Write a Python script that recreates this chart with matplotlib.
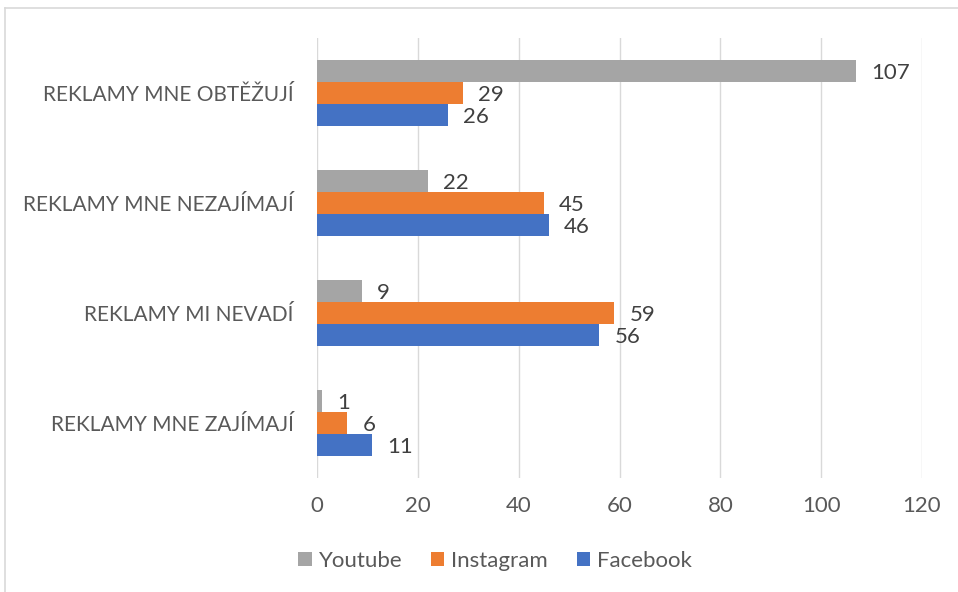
import matplotlib.pyplot as plt
import numpy as np

categories = ["REKLAMY MNE ZAJÍMAJÍ", "REKLAMY MI NEVADÍ",
              "REKLAMY MNE NEZAJÍMAJÍ", "REKLAMY MNE OBTĚŽUJÍ"]
youtube = [1, 9, 22, 107]
instagram = [6, 59, 45, 29]
facebook = [11, 56, 46, 26]

series = [("Youtube", youtube, "#A5A5A5", 0.2),
          ("Instagram", instagram, "#ED7D31", 0.0),
          ("Facebook", facebook, "#4472C4", -0.2)]

plt.rcParams['font.family'] = ['Lato', 'DejaVu Sans']
txt = "#595959"

fig = plt.figure(figsize=(9.58, 5.92), dpi=100)
ax = fig.add_axes([317 / 958, 1 - 478 / 592, 605 / 958, 440 / 592])

y = np.arange(len(categories))
for name, vals, col, off in series:
    bars = ax.barh(y + off, vals, height=0.2, color=col, label=name, zorder=2)
    for b, v in zip(bars, vals):
        ax.annotate(str(v), xy=(b.get_width(), b.get_y() + b.get_height() / 2),
                    xytext=(15, -2), textcoords='offset pixels',
                    va='center', ha='left', fontsize=16, color="#404040")

ax.set_xlim(0, 120)
ax.set_ylim(-0.5, 3.5)
ax.set_xticks(range(0, 121, 20))
ax.set_yticks(y)
ax.set_yticklabels(categories)
ax.grid(axis='x', color='#D9D9D9', linewidth=1, zorder=0)
for s in ax.spines.values():
    s.set_visible(False)
ax.tick_params(axis='both', length=0, colors=txt, labelsize=16)
ax.tick_params(axis='y', pad=17, labelsize=15)
ax.tick_params(axis='x', pad=13)

handles, labels = ax.get_legend_handles_labels()
fig.legend(handles, labels, loc='center', bbox_to_anchor=(495 / 958, 1 - 561 / 592),
           ncol=3, frameon=False, fontsize=16, labelcolor=txt,
           handlelength=0.6, handleheight=0.6, handletextpad=0.3, columnspacing=1.3)

fig.add_artist(plt.Line2D([5 / 958, 1], [1 - 8 / 592] * 2, transform=fig.transFigure,
                          color='#D9D9D9', linewidth=1.2))
fig.add_artist(plt.Line2D([5 / 958] * 2, [0, 1 - 8 / 592], transform=fig.transFigure,
                          color='#D9D9D9', linewidth=1.2))

fig.savefig("out.png", dpi=100)
